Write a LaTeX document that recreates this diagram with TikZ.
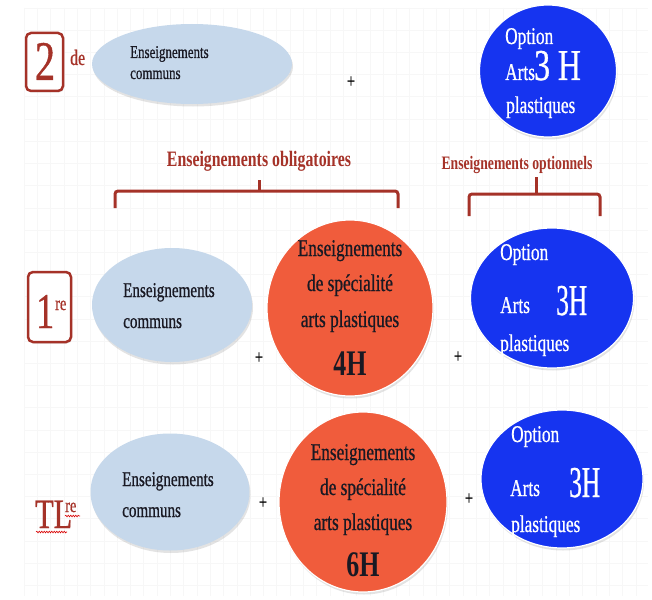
\documentclass[tikz,border=0pt]{standalone}
\usepackage{fontspec}
\setmainfont{Liberation Serif}[FakeStretch=0.72, UprightFeatures={FakeBold=0.7}]
\usepackage{graphicx}
\usetikzlibrary{shapes.geometric,shadows,decorations.pathmorphing}
\definecolor{brn}{RGB}{165,50,40}
\definecolor{lblue}{RGB}{198,216,235}
\definecolor{ored}{RGB}{240,92,60}
\definecolor{dblue}{RGB}{22,52,240}
\definecolor{gridc}{RGB}{247,247,247}
\definecolor{ink}{RGB}{25,25,35}
\newcommand\fsz[1]{\fontsize{#1}{#1}\selectfont}
\begin{document}
\begin{tikzpicture}[x=1pt,y=-1pt,
  shd/.style={drop shadow={opacity=0.22, shadow xshift=1pt, shadow yshift=-2.5pt}},
  common/.style={ellipse, fill=lblue, inner sep=0pt, shd},
  spec/.style={ellipse, fill=ored, draw=white, line width=1.2pt, inner sep=0pt, shd},
  opt/.style={ellipse, fill=dblue, draw=white, line width=1.2pt, inner sep=0pt, shd},
  lvlbox/.style={draw=brn, line width=2.5pt, rounded corners=5pt, fill=white, inner sep=0pt,
    drop shadow={opacity=0.2, shadow xshift=1pt, shadow yshift=-1.5pt}},
  lvl/.style={text=brn, inner sep=0pt, anchor=base west},
  ctext/.style={text=ink, inner sep=0pt, anchor=base west, font=\fsz{21}},
  stext/.style={text=ink, inner sep=0pt, anchor=base, font=\fsz{24}},
  hours/.style={text=ink, inner sep=0pt, anchor=base, font=\fsz{36}\bfseries},
  otext/.style={text=white, inner sep=0pt, anchor=base west, font=\fsz{24}},
  obig/.style={text=white, inner sep=0pt, anchor=base west, font=\fsz{44}},
  plus/.style={text=black, inner sep=0pt, font=\fsz{20}},
  bracket/.style={draw=brn, line width=3pt, rounded corners=3pt},
  head/.style={text=brn, inner sep=0pt, anchor=base, font=\bfseries},
  squig/.style={draw=red!85!black, line width=0.6pt, decorate,
    decoration={snake, amplitude=0.8pt, segment length=2.5pt}}
]
\useasboundingbox (0,0) rectangle (652,599);
\fill[white] (0,0) rectangle (652,599);
% faint background grid
\foreach \i in {0,...,46} \draw[gridc, line width=0.6pt] ({24+13.3*\i},8) -- ({24+13.3*\i},596);
\foreach \j in {0,...,26} \draw[gridc, line width=0.6pt] (24,{8+22.2*\j}) -- (648,{8+22.2*\j});

% ---------- Row 1 : 2de ----------
\node[lvlbox, minimum width=37, minimum height=58] (box2) at (44.5,62) {};
\node[lvl, anchor=base, font=\fsz{56}] (two) at (45,80) {2};
\node[lvl, font=\fsz{22}] (de) at (70,65) {de};
\node[common, minimum width=200, minimum height=80] (c1) at (192,64) {};
\node[ctext, font=\fsz{18}] (c1a) at (130,58) {Enseignements};
\node[ctext, font=\fsz{18}] (c1b) at (130,79) {communs};
\node[plus] (p1) at (351,82) {+};
\node[opt, minimum width=137, minimum height=132] (o1) at (548,71) {};
\node[otext] (o1a) at (505,44) {Option};
\node[otext] (o1b) at (505,80) {Arts};
\node[obig] (o1c) at (534,80) {3 H};
\node[otext] (o1d) at (506,113) {plastiques};

% ---------- headings and brackets ----------
\node[head, font=\fsz{22}\bfseries] (hob) at (259,166) {Enseignements obligatoires};
\draw[bracket] (115,208) -- (115,191) -- (398,191) -- (398,208);
\draw[bracket, rounded corners=0pt] (259,191) -- (259,180);
\node[head, font=\fsz{19}\bfseries] (hop) at (517,169) {Enseignements optionnels};
\draw[bracket] (469,216) -- (469,194) -- (600,194) -- (600,216);
\draw[bracket, rounded corners=0pt] (536,194) -- (536,177);

% ---------- Row 2 : 1re ----------
\node[lvlbox, minimum width=43, minimum height=70] (box1) at (49.5,307) {};
\node[lvl, font=\fsz{50}] (one) at (36,328) {1};
\node[lvl, font=\fsz{20}] (re1) at (55,310) {re};
\node[common, minimum width=160, minimum height=114] (c2) at (172,305) {};
\node[ctext] (c2a) at (123,297) {Enseignements};
\node[ctext] (c2b) at (123,328) {communs};
\node[plus] (p2) at (259,358) {+};
\node[spec, minimum width=166, minimum height=176] (s2) at (350,308) {};
\node[stext] (s2a) at (350,256) {Enseignements};
\node[stext] (s2b) at (350,291) {de spécialité};
\node[stext] (s2c) at (350,327) {arts plastiques};
\node[hours] (s2d) at (350,375) {4H};
\node[plus] (p3) at (458,357) {+};
\node[opt, minimum width=163, minimum height=140] (o2) at (552,298) {};
\node[otext] (o2a) at (500,260) {Option};
\node[otext] (o2b) at (500,313) {Arts};
\node[obig] (o2c) at (556,315) {\scalebox{0.8}[1]{3H}};
\node[otext] (o2d) at (500,351) {plastiques};

% ---------- Row 3 : TLre ----------
\node[lvl, font=\fsz{42}] (tl) at (35,528) {TL};
\node[lvl, font=\fsz{20}] (re3) at (65,512) {re};
\draw[squig] (tl.base west) ++(1,4) -- ++(31,0);
\draw[squig] (re3.base west) ++(0,4) -- ++(15,0);
\node[common, minimum width=159, minimum height=117] (c3) at (170,492) {};
\node[ctext] (c3a) at (122,486) {Enseignements};
\node[ctext] (c3b) at (122,517) {communs};
\node[plus] (p4) at (263,503) {+};
\node[spec, minimum width=168, minimum height=180] (s3) at (363,502) {};
\node[stext] (s3a) at (363,460) {Enseignements};
\node[stext] (s3b) at (363,495) {de spécialité};
\node[stext] (s3c) at (363,530) {arts plastiques};
\node[hours] (s3d) at (363,576) {6H};
\node[plus] (p5) at (469,499) {+};
\node[opt, minimum width=162, minimum height=138] (o3) at (562,479) {};
\node[otext] (o3a) at (511,442) {Option};
\node[otext] (o3b) at (510,496) {Arts};
\node[obig] (o3c) at (569,497) {\scalebox{0.8}[1]{3H}};
\node[otext] (o3d) at (511,532) {plastiques};
\end{tikzpicture}
\end{document}
